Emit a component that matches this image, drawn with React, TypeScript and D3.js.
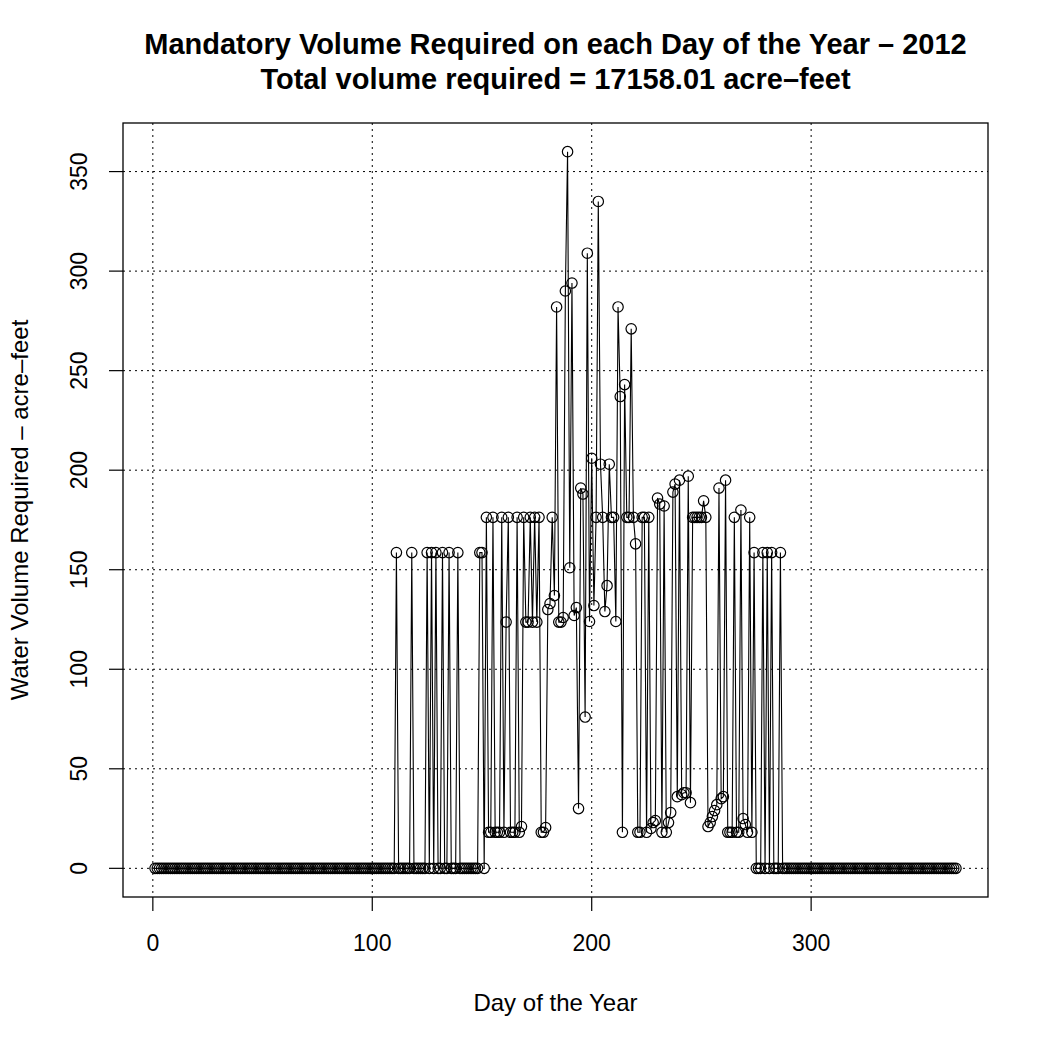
import React from "react";
import * as d3 from "d3";

const titleLine1 = "Mandatory Volume Required on each Day of the Year – 2012";
const titleLine2 = "Total volume required = 17158.01 acre–feet";
const xAxisLabel = "Day of the Year";
const yAxisLabel = "Water Volume Required – acre–feet";

const xTicks = [0, 100, 200, 300];
const yTicks = [0, 50, 100, 150, 200, 250, 300, 350];

// Days 1–110: no requirement
const volumesJanToApr = [
  0, 0, 0, 0, 0, 0, 0, 0, 0, 0, 0, 0, 0, 0, 0, 0, 0, 0, 0, 0,
  0, 0, 0, 0, 0, 0, 0, 0, 0, 0, 0, 0, 0, 0, 0, 0, 0, 0, 0, 0,
  0, 0, 0, 0, 0, 0, 0, 0, 0, 0, 0, 0, 0, 0, 0, 0, 0, 0, 0, 0,
  0, 0, 0, 0, 0, 0, 0, 0, 0, 0, 0, 0, 0, 0, 0, 0, 0, 0, 0, 0,
  0, 0, 0, 0, 0, 0, 0, 0, 0, 0, 0, 0, 0, 0, 0, 0, 0, 0, 0, 0,
  0, 0, 0, 0, 0, 0, 0, 0, 0, 0,
];

// Days 111–151
const volumesSpring = [
  158.6, 0, 0, 0, 0, 0, 0, 158.6, 0, 0,
  0, 0, 0, 0, 158.6, 0, 158.6, 0, 158.6, 0,
  0, 158.6, 0, 0, 158.6, 0, 0, 0, 158.6, 0,
  0, 0, 0, 0, 0, 0, 0, 0, 158.6, 158.6,
  0,
];

// Days 152–273
const volumesSummer = [
  176.3, 18.1, 18.1, 176.3, 18.1, 18.1, 18.1, 176.3, 18.1, 123.7,
  176.3, 18.1, 18.1, 18.1, 176.3, 18.1, 21, 176.3, 123.7, 123.7,
  176.3, 123.7, 176.3, 123.7, 176.3, 18.1, 18.1, 20.5, 130, 133,
  176.3, 137, 282, 123.7, 123.7, 126, 290, 360, 151, 294,
  127, 131, 30, 191, 188, 76, 309, 124, 206, 132,
  176.3, 335, 203, 176.3, 129, 142, 203, 176.3, 176.3, 124,
  282, 237, 18.1, 243, 176.3, 176.3, 271, 176.3, 163, 18.1,
  18.1, 176.3, 176.3, 18.1, 176.3, 20, 23, 24, 186, 183,
  18.1, 182, 18.1, 23, 28, 189, 193, 36, 195, 37,
  38, 38, 197, 33, 176.3, 176.3, 176.3, 176.3, 176.3, 184.6,
  176.3, 21, 23, 26, 29, 32, 191, 35, 36, 195,
  18.1, 18.1, 18.1, 176.3, 18.1, 18.1, 180, 25, 22, 18.1,
  176.3, 18.1,
];

// Days 274–286
const volumesAutumn = [158.6, 0, 0, 0, 158.6, 0, 158.6, 0, 158.6, 0, 0, 0, 158.6];

// Days 287–366
const volumesLateYear = [
  0, 0, 0, 0, 0, 0, 0, 0, 0, 0, 0, 0, 0, 0, 0, 0, 0, 0, 0, 0,
  0, 0, 0, 0, 0, 0, 0, 0, 0, 0, 0, 0, 0, 0, 0, 0, 0, 0, 0, 0,
  0, 0, 0, 0, 0, 0, 0, 0, 0, 0, 0, 0, 0, 0, 0, 0, 0, 0, 0, 0,
  0, 0, 0, 0, 0, 0, 0, 0, 0, 0, 0, 0, 0, 0, 0, 0, 0, 0, 0, 0,
];

const volumes = [
  ...volumesJanToApr,
  ...volumesSpring,
  ...volumesSummer,
  ...volumesAutumn,
  ...volumesLateYear,
];
const points = volumes.map((v, i) => ({ day: i + 1, value: v }));

const W = 1050;
const H = 1050;
const plotLeft = 123;
const plotRight = 988;
const plotTop = 123;
const plotBottom = 897;

export default function App() {
  const n = points.length;
  const xPad = (n - 1) * 0.04;
  const yMax = d3.max(volumes) as number;
  const yPad = yMax * 0.04;
  const x = d3.scaleLinear().domain([1 - xPad, n + xPad]).range([plotLeft, plotRight]);
  const y = d3.scaleLinear().domain([0 - yPad, yMax + yPad]).range([plotBottom, plotTop]);

  const line = d3
    .line<{ day: number; value: number }>()
    .x((d) => x(d.day))
    .y((d) => y(d.value));

  const font = "'Liberation Sans', Arial, Helvetica, sans-serif";
  const tickLen = 14;
  const cx = (plotLeft + plotRight) / 2;

  return (
    <svg
      width={W}
      height={H}
      style={{ position: "absolute", left: 0, top: 0, background: "#fff" }}
      fontFamily={font}
    >
      <rect x={0} y={0} width={W} height={H} fill="#fff" />
      {/* grid */}
      <g stroke="#000" strokeWidth={1} strokeDasharray="2,4">
        {xTicks.map((t) => (
          <line key={"gx" + t} x1={x(t)} x2={x(t)} y1={plotTop} y2={plotBottom} />
        ))}
        {yTicks.map((t) => (
          <line key={"gy" + t} x1={plotLeft} x2={plotRight} y1={y(t)} y2={y(t)} />
        ))}
      </g>
      {/* data */}
      <path d={line(points) || ""} fill="none" stroke="#000" strokeWidth={1.1} />
      <g fill="none" stroke="#000" strokeWidth={1.2}>
        {points.map((p) => (
          <circle key={p.day} cx={x(p.day)} cy={y(p.value)} r={5.2} />
        ))}
      </g>
      {/* box */}
      <rect
        x={plotLeft}
        y={plotTop}
        width={plotRight - plotLeft}
        height={plotBottom - plotTop}
        fill="none"
        stroke="#000"
        strokeWidth={1.3}
      />
      {/* axes ticks */}
      <g stroke="#000" strokeWidth={1.2}>
        {xTicks.map((t) => (
          <line key={"tx" + t} x1={x(t)} x2={x(t)} y1={plotBottom} y2={plotBottom + tickLen} />
        ))}
        {yTicks.map((t) => (
          <line key={"ty" + t} x1={plotLeft - tickLen} x2={plotLeft} y1={y(t)} y2={y(t)} />
        ))}
      </g>
      <g fontSize={23} fill="#000">
        {xTicks.map((t) => (
          <text key={"lx" + t} x={x(t)} y={951} textAnchor="middle">
            {t}
          </text>
        ))}
        {yTicks.map((t) => (
          <text
            key={"ly" + t}
            transform={`translate(87,${y(t)}) rotate(-90)`}
            textAnchor="middle"
          >
            {t}
          </text>
        ))}
      </g>
      <text x={cx} y={1011} textAnchor="middle" fontSize={24}>
        {xAxisLabel}
      </text>
      <text
        transform={`translate(28,${(plotTop + plotBottom) / 2}) rotate(-90)`}
        textAnchor="middle"
        fontSize={24}
      >
        {yAxisLabel}
      </text>
      <g fontSize={29} fontWeight="bold" textAnchor="middle">
        <text x={cx} y={53.5}>
          {titleLine1}
        </text>
        <text x={cx} y={88.5}>
          {titleLine2}
        </text>
      </g>
    </svg>
  );
}
